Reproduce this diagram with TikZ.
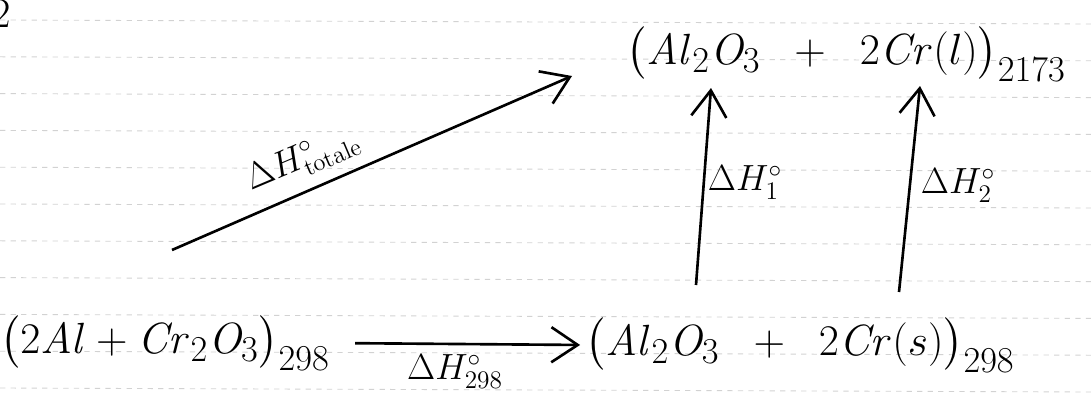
\documentclass[tikz,border=0pt]{standalone}
\usepackage{amsmath}
\usetikzlibrary{arrows.meta}
\tikzset{
  species/.style={inner sep=0pt, font=\fontsize{30}{32}\selectfont},
  dhlabel/.style={inner sep=0pt, font=\fontsize{20}{22}\selectfont},
  reacarrow/.style={-{Straight Barb[length=15pt,width=20pt,line width=1.5pt]}, line width=1.5pt},
  ruled/.style={gray!35, dashed, line width=0.5pt}
}

\begin{document}
\begin{tikzpicture}[x=0.02cm, y=-0.02cm]
    \useasboundingbox (0,0) rectangle (1091,392);
    % Ruled paper
    \foreach \k in {0,...,10}
        \draw[ruled] (0,{20+36.8*\k}) -- (1091,{24+36.8*\k});
    % Page number
    \node[dhlabel, font=\fontsize{24}{26}\selectfont] (pnum) at (1,14) {2};

    % Reactants at 298 K
    \node[species] (reac) at (165,343) {$\bigl(2\mathit{Al}+\mathit{Cr}_2\mathit{O}_3\bigr)_{298}$};
    % Products at 298 K
    \node[species] (prod) at (800,345) {$\bigl(\mathit{Al}_2\mathit{O}_3\;\;+\;\;2\mathit{Cr}(s)\bigr)_{298}$};
    % Products at 2173 K
    \node[species, font=\fontsize{32}{34}\selectfont] (hot) at (846,54) {$\bigl(\mathit{Al}_2\mathit{O}_3\;\;+\;\;2\mathit{Cr}(l)\bigr)_{2173}$};

    % Arrow ends
    \coordinate (d0) at (172,250);
    \coordinate (d1) at (572,76);
    \coordinate (v1a) at (696,285);
    \coordinate (v1b) at (711,88);
    \coordinate (v2a) at (899,292);
    \coordinate (v2b) at (920,86);

    % Arrows
    \draw[reacarrow, shorten <=0.5cm, shorten >=0.1cm] (reac.east) -- (prod.west);
    \draw[reacarrow] (d0) -- (d1);
    \draw[reacarrow] (v1a) -- (v1b);
    \draw[reacarrow] (v2a) -- (v2b);

    % Enthalpy labels
    \node[dhlabel, rotate=23] (ltot) at (303,160) {$\Delta H^{\circ}_{\text{totale}}$};
    \node[dhlabel] (l298) at (455,372) {$\Delta H^{\circ}_{298}$};
    \node[dhlabel] (l1) at (745,183) {$\Delta H^{\circ}_{1}$};
    \node[dhlabel] (l2) at (958,186) {$\Delta H^{\circ}_{2}$};
\end{tikzpicture}
\end{document}
